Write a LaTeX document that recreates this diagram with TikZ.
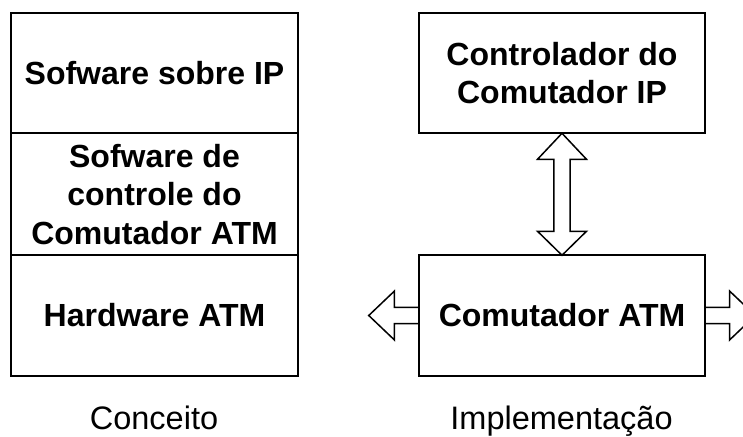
\documentclass[tikz,border=0pt]{standalone}
\usepackage{fontspec}
\setmainfont{Liberation Sans}
\usetikzlibrary{calc,positioning}

\begin{document}
\begin{tikzpicture}[x=1pt, y=-1pt,
        camada/.style={draw, line width=1.8pt, outer sep=0pt, inner sep=0pt, minimum width=286.5pt, align=center, font=\fontsize{32}{38.5}\selectfont\bfseries},
        seta/.style={draw, line width=1.5pt, line join=miter},
        legenda/.style={anchor=base, inner sep=0pt, font=\fontsize{32.5}{38}\selectfont}]
        \useasboundingbox (0,0) rectangle (743,436);
        \clip (0,0) rectangle (743,436);
        \pgfmathsetmacro{\cab}{24.5};
        \pgfmathsetmacro{\haste}{8.2};
        % conceito
        \node [camada, minimum height=120pt] (ip) at (154.5,73.3) {Sofware sobre IP};
        \node [camada, minimum height=122pt, below=0pt of ip] (ctl) {Sofware de\\controle do\\Comutador ATM};
        \node [camada, minimum height=120.5pt, below=0pt of ctl] (hw) {Hardware ATM};
        % implementacao
        \node [camada, minimum height=120pt] (ctrlip) at (562,73.3) {Controlador do\\Comutador IP};
        \node [camada, minimum height=120.5pt] (atm) at (562,315.5) {Comutador ATM};
        \draw [seta] (ctrlip.south) -- ++(-\cab,26) -- ++(\cab-\haste,0) -- ($(atm.north)+(-\haste,-24)$) -- ++(\haste-\cab,0) -- (atm.north)
            -- ++(\cab,-24) -- ++(\haste-\cab,0) -- ($(ctrlip.south)+(\haste,26)$) -- ++(\cab-\haste,0) -- cycle;
        \coordinate (pontaesq) at ($(atm.west)+(-50,0)$);
        \coordinate (pontadir) at ($(atm.east)+(50,0)$);
        \draw [seta] ($(atm.west)+(0,-\haste)$) -- ($(pontaesq)+(25.7,-\haste)$) -- ++(0,\haste-\cab) -- (pontaesq)
            -- ($(pontaesq)+(25.7,\cab)$) -- ++(0,\haste-\cab) -- ($(atm.west)+(0,\haste)$);
        \draw [seta] ($(atm.east)+(0,-\haste)$) -- ($(pontadir)+(-25.7,-\haste)$) -- ++(0,\haste-\cab) -- (pontadir)
            -- ($(pontadir)+(-25.7,\cab)$) -- ++(0,\haste-\cab) -- ($(atm.east)+(0,\haste)$);
        \node [legenda] (conceito) at (154,429) {Conceito};
        \node [legenda] (implem) at (561.5,429) {Implementação};
\end{tikzpicture}
\end{document}
